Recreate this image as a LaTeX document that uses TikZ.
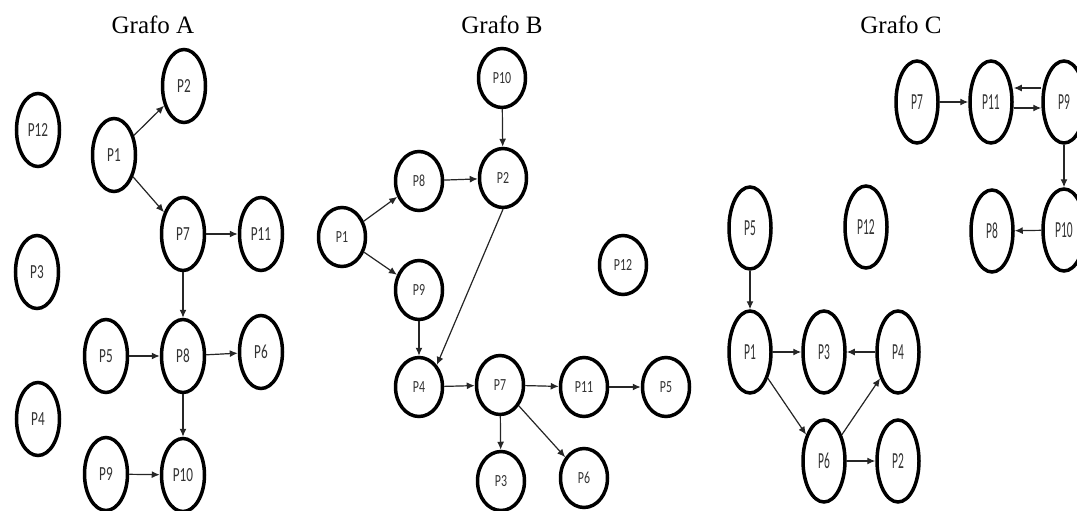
\documentclass[tikz,border=0pt]{standalone}
\usepackage{fontspec}
\setmainfont{Liberation Serif}
\newfontfamily\labfontA[FakeStretch=0.66]{Carlito}
\newfontfamily\labfontB[FakeStretch=0.70]{Carlito}
\newfontfamily\labfontC[FakeStretch=0.50]{Carlito}
\usetikzlibrary{shapes.geometric,arrows.meta}

\begin{document}
\begin{tikzpicture}[x=1pt,y=-1pt,
  pn/.style={ellipse, draw, line width=3.5pt, inner sep=0pt, text=black!80},
  pa/.style={pn, minimum width=43pt, minimum height=73pt, font={\labfontA\fontsize{20}{20}\selectfont}},
  pb/.style={pn, minimum width=47pt, minimum height=59pt, font={\labfontB\fontsize{17}{17}\selectfont}},
  pc/.style={pn, minimum width=42pt, minimum height=82pt, font={\labfontC\fontsize{23}{23}\selectfont}},
  arr/.style={-{Latex[length=8pt,width=7pt]}, line width=1.2pt, draw=black!85, fill=black!85},
  title/.style={anchor=base, font={\fontsize{25}{25}\selectfont}}]

\useasboundingbox (0,0) rectangle (1077,511);
\clip (0,0) rectangle (1077,511);

% ---------- Grafo A ----------
\node[title] (tA) at (153,34) {Grafo A};
\node[pa] (a12) at (38,130) {P12};
\node[pa] (a3)  at (37,272) {P3};
\node[pa] (a4)  at (38,419) {P4};
\node[pa] (a2)  at (184,86) {P2};
\node[pa] (a1)  at (114,155) {P1};
\node[pa] (a7)  at (183,234) {P7};
\node[pa] (a11) at (261,234) {P11};
\node[pa] (a5)  at (106,356) {P5};
\node[pa] (a8)  at (183,356) {P8};
\node[pa] (a6)  at (261,352) {P6};
\node[pa] (a9)  at (106,474) {P9};
\node[pa] (a10) at (183,475) {P10};

\draw[arr] (a1) -- (a2);
\draw[arr] (a1) -- (a7);
\draw[arr] (a7) -- (a11);
\draw[arr] (a7) -- (a8);
\draw[arr] (a5) -- (a8);
\draw[arr] (a8) -- (a6);
\draw[arr] (a8) -- (a10);
\draw[arr] (a9) -- (a10);

% ---------- Grafo B ----------
\node[title] (tB) at (502,34) {Grafo B};
\node[pb] (b10) at (502,78) {P10};
\node[pb] (b2)  at (503,178) {P2};
\node[pb] (b8)  at (419,181) {P8};
\node[pb] (b1)  at (342,237) {P1};
\node[pb] (b9)  at (419,290) {P9};
\node[pb] (b12) at (623,265) {P12};
\node[pb] (b4)  at (419,387) {P4};
\node[pb] (b7)  at (500,385) {P7};
\node[pb] (b11) at (584,387) {P11};
\node[pb] (b5)  at (666,387) {P5};
\node[pb] (b3)  at (501,481) {P3};
\node[pb] (b6)  at (584,478) {P6};

\draw[arr] (b10) -- (b2);
\draw[arr] (b8) -- (b2);
\draw[arr] (b1) -- (b8);
\draw[arr] (b1) -- (b9);
\draw[arr] (b9) -- (b4);
\draw[arr] (b2.south) -- (b4.north east);
\draw[arr] (b4) -- (b7);
\draw[arr] (b7) -- (b11);
\draw[arr] (b11) -- (b5);
\draw[arr] (b7) -- (b3);
\draw[arr] (b7) -- (b6);

% ---------- Grafo C ----------
\node[title] (tC) at (901,34) {Grafo C};
\node[pc] (c7)  at (917,102) {P7};
\node[pc] (c11) at (991,102) {P11};
\node[pc] (c9)  at (1064,102) {P9};
\node[pc] (c8)  at (992,231) {P8};
\node[pc] (c10) at (1064,230) {P10};
\node[pc] (c12) at (866,227) {P12};
\node[pc] (c5)  at (750,228) {P5};
\node[pc] (c1)  at (750,352) {P1};
\node[pc] (c3)  at (824,352) {P3};
\node[pc] (c4)  at (898,352) {P4};
\node[pc] (c6)  at (824,461) {P6};
\node[pc] (c2)  at (898,461) {P2};

\draw[arr] (c7) -- (c11);
\draw[arr] ([yshift=14pt]c9.west) -- ([yshift=14pt]c11.east);
\draw[arr] ([yshift=-6pt]c11.east) -- ([yshift=-6pt]c9.west);
\draw[arr] (c9) -- (c10);
\draw[arr] (c10) -- (c8);
\draw[arr] (c5) -- (c1);
\draw[arr] (c1) -- (c3);
\draw[arr] (c4) -- (c3);
\draw[arr] (c1) -- (c6);
\draw[arr] (c6) -- (c4);
\draw[arr] (c6) -- (c2);
\end{tikzpicture}
\end{document}
